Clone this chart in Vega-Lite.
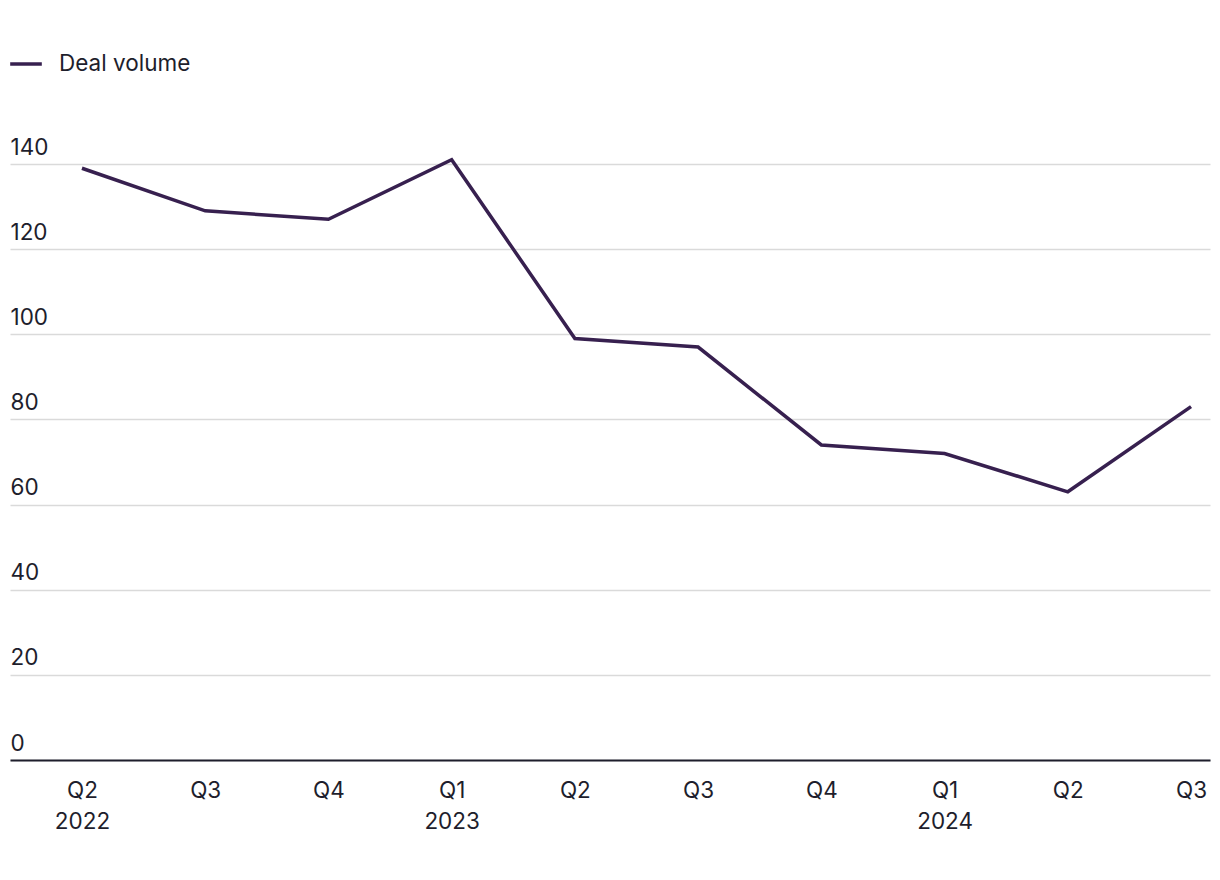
{
  "$schema": "https://vega.github.io/schema/vega-lite/v6.json",
  "autosize": {"type": "none"},
  "width": 1200,
  "height": 596,
  "padding": {"left": 10, "top": 164, "right": 10, "bottom": 120},
  "background": "white",
  "config": {
    "font": "Inter",
    "view": {"stroke": null},
    "axis": {"labelFont": "Inter", "labelColor": "#1e1e2c", "labelFontSize": 22.5}
  },
  "data": {
    "values": [
      {"idx": 0, "quarter": "Q2 2022", "series": "Deal volume", "value": 139},
      {"idx": 1, "quarter": "Q3 2022", "series": "Deal volume", "value": 129},
      {"idx": 2, "quarter": "Q4 2022", "series": "Deal volume", "value": 127},
      {"idx": 3, "quarter": "Q1 2023", "series": "Deal volume", "value": 141},
      {"idx": 4, "quarter": "Q2 2023", "series": "Deal volume", "value": 99},
      {"idx": 5, "quarter": "Q3 2023", "series": "Deal volume", "value": 97},
      {"idx": 6, "quarter": "Q4 2023", "series": "Deal volume", "value": 74},
      {"idx": 7, "quarter": "Q1 2024", "series": "Deal volume", "value": 72},
      {"idx": 8, "quarter": "Q2 2024", "series": "Deal volume", "value": 63},
      {"idx": 9, "quarter": "Q3 2024", "series": "Deal volume", "value": 83}
    ]
  },
  "mark": {"type": "line", "strokeWidth": 3.5, "clip": false, "strokeJoin": "miter"},
  "encoding": {
    "x": {
      "field": "idx",
      "type": "quantitative",
      "scale": {"domain": [-0.584, 9.154], "nice": false, "zero": false},
      "axis": {
        "title": null,
        "values": [0, 1, 2, 3, 4, 5, 6, 7, 8, 9],
        "ticks": false,
        "grid": false,
        "domain": true,
        "domainColor": "#1e1e2c",
        "domainWidth": 2,
        "labelPadding": 19,
        "labelBaseline": "top",
        "labelLineHeight": 31,
        "labelAngle": 0,
        "labelFlush": false,
        "labelOverlap": false,
        "labelExpr": "[['Q2','2022'],'Q3','Q4',['Q1','2023'],'Q2','Q3','Q4',['Q1','2024'],'Q2','Q3'][datum.value]"
      }
    },
    "y": {
      "field": "value",
      "type": "quantitative",
      "scale": {"domain": [0, 140], "nice": false, "zero": true},
      "axis": {
        "title": null,
        "values": [0, 20, 40, 60, 80, 100, 120, 140],
        "ticks": false,
        "domain": false,
        "grid": true,
        "gridColor": "#dadada",
        "gridWidth": 1.5,
        "labelAlign": "left",
        "labelBaseline": "alphabetic",
        "labelPadding": 0,
        "labelOffset": -10
      }
    },
    "color": {
      "field": "series",
      "type": "nominal",
      "scale": {"range": ["#37204f"]},
      "legend": {
        "title": null,
        "orient": "none",
        "legendX": -2,
        "legendY": -118,
        "symbolType": "stroke",
        "symbolSize": 1000,
        "symbolStrokeWidth": 3.5,
        "labelFontSize": 22.5,
        "labelColor": "#1e1e2c",
        "labelFont": "Inter",
        "labelOffset": 15
      }
    }
  }
}
